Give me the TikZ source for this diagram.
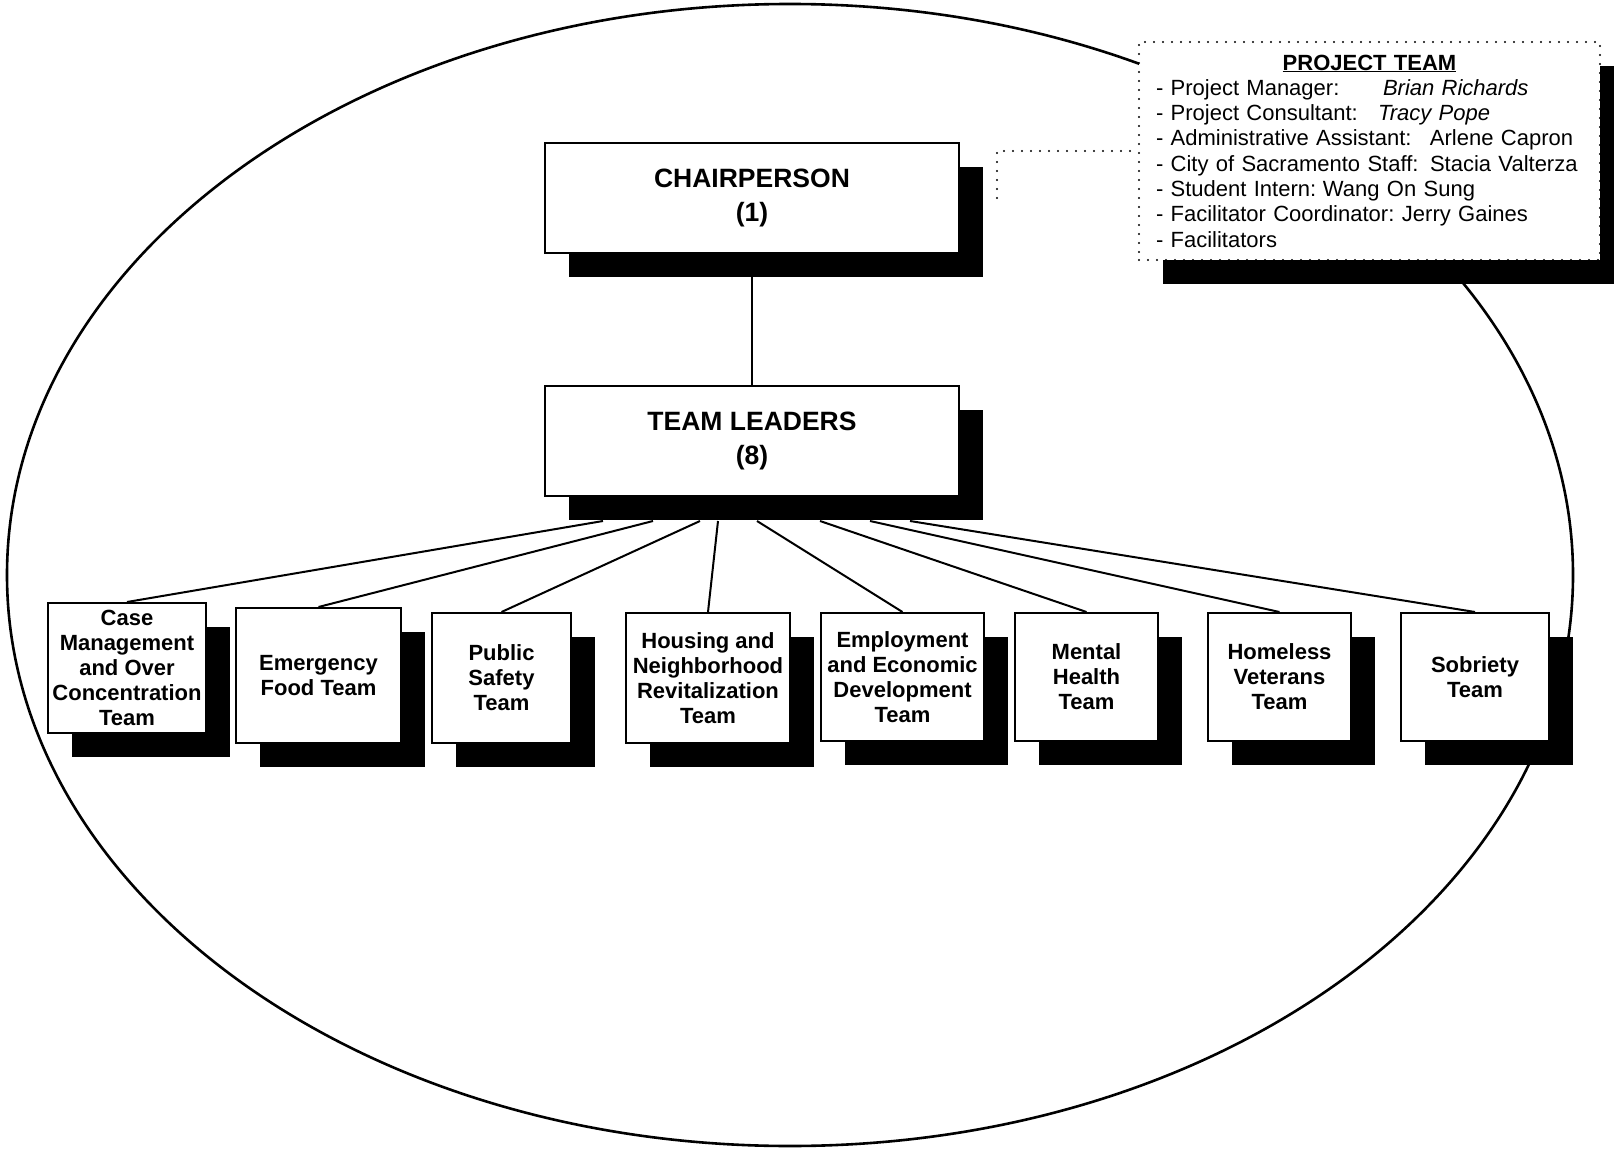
\documentclass[tikz,border=0pt]{standalone}
\usepackage{fontspec}
\setmainfont{Liberation Sans}
\usetikzlibrary{shadows}

\tikzset{
  boxshadow/.style={drop shadow={shadow xshift=24pt, shadow yshift=-24pt, opacity=1, fill=black}},
  headbox/.style={draw, line width=2pt, fill=white, boxshadow, minimum width=414pt, minimum height=110pt,
    inner sep=0pt, align=center, font=\fontsize{26.5}{34}\selectfont\bfseries},
  teambox/.style={draw, line width=2pt, fill=white, boxshadow, inner sep=0pt, align=center,
    font=\fontsize{22}{25}\selectfont\bfseries},
  dotline/.style={line width=2.2pt, line cap=round, dash pattern=on 0pt off 9pt},
  link/.style={line width=2pt},
}

\begin{document}
\begin{tikzpicture}[x=1pt, y=-1pt]
%      \draw[help lines, step=100] (0, 0) grid (1614, 1150);
      \useasboundingbox (0,0) rectangle (1614,1150);
      \clip (0,0) rectangle (1614,1150);

      \draw[line width=2.6pt] (790,575) ellipse [x radius=783, y radius=571];

      \node[headbox] (chair)   at (752,198) {CHAIRPERSON\\(1)};
      \node[headbox] (leaders) at (752,441) {TEAM LEADERS\\(8)};

      % project team
      \node[draw, dotline, fill=white, boxshadow, minimum width=461pt, minimum height=218pt,
        text width=427pt, inner xsep=17pt, inner ysep=0pt, align=left,
        font=\fontsize{22}{25.3}\selectfont] (project) at (1369.5,151)
        {{\centering\bfseries\underline{PROJECT TEAM}\par}
         \makebox[227pt][l]{- Project Manager:}\textit{Brian Richards}\\
         \makebox[222pt][l]{- Project Consultant:}\textit{Tracy Pope}\\
         \makebox[274pt][l]{- Administrative Assistant:}Arlene Capron\\
         \makebox[274pt][l]{- City of Sacramento Staff:}Stacia Valterza\\
         \makebox[167pt][l]{- Student Intern:}Wang On Sung\\
         \makebox[246pt][l]{- Facilitator Coordinator:}Jerry Gaines\\
         - Facilitators};

      % teams
      \node[teambox, minimum width=158pt, minimum height=130pt] (casemgmt) at (127,668)
        {Case\\Management\\and Over\\Concentration\\Team};
      \node[teambox, minimum width=165pt, minimum height=135pt] (food) at (318.5,675.5)
        {Emergency\\Food Team};
      \node[teambox, minimum width=139pt, minimum height=130pt] (safety) at (501.5,678)
        {Public\\Safety\\Team};
      \node[teambox, minimum width=164pt, minimum height=130pt] (housing) at (708,678)
        {Housing and\\Neighborhood\\Revitalization\\Team};
      \node[teambox, minimum width=163pt, minimum height=128pt] (employ) at (902.5,677)
        {Employment\\and Economic\\Development\\Team};
      \node[teambox, minimum width=143pt, minimum height=128pt] (mental) at (1086.5,677)
        {Mental\\Health\\Team};
      \node[teambox, minimum width=143pt, minimum height=128pt] (veterans) at (1279.5,677)
        {Homeless\\Veterans\\Team};
      \node[teambox, minimum width=148pt, minimum height=128pt] (sobriety) at (1475,677)
        {Sobriety\\Team};

      \draw[link] (chair.south) -- (leaders.north);
      \coordinate (dotend) at ([xshift=37pt]chair.east);
      \draw[dotline] (dotend) |- (project.west);

      \draw[link] ([xshift=-149pt,yshift=-24pt]leaders.south) -- (casemgmt.north);
      \draw[link] ([xshift=-99pt,yshift=-24pt]leaders.south)  -- (food.north);
      \draw[link] ([xshift=-52pt,yshift=-24pt]leaders.south)  -- (safety.north);
      \draw[link] ([xshift=-34pt,yshift=-24pt]leaders.south)  -- (housing.north);
      \draw[link] ([xshift=5pt,yshift=-24pt]leaders.south)    -- (employ.north);
      \draw[link] ([xshift=68pt,yshift=-24pt]leaders.south)   -- (mental.north);
      \draw[link] ([xshift=118pt,yshift=-24pt]leaders.south)  -- (veterans.north);
      \draw[link] ([xshift=158pt,yshift=-24pt]leaders.south)  -- (sobriety.north);
\end{tikzpicture}
\end{document}
